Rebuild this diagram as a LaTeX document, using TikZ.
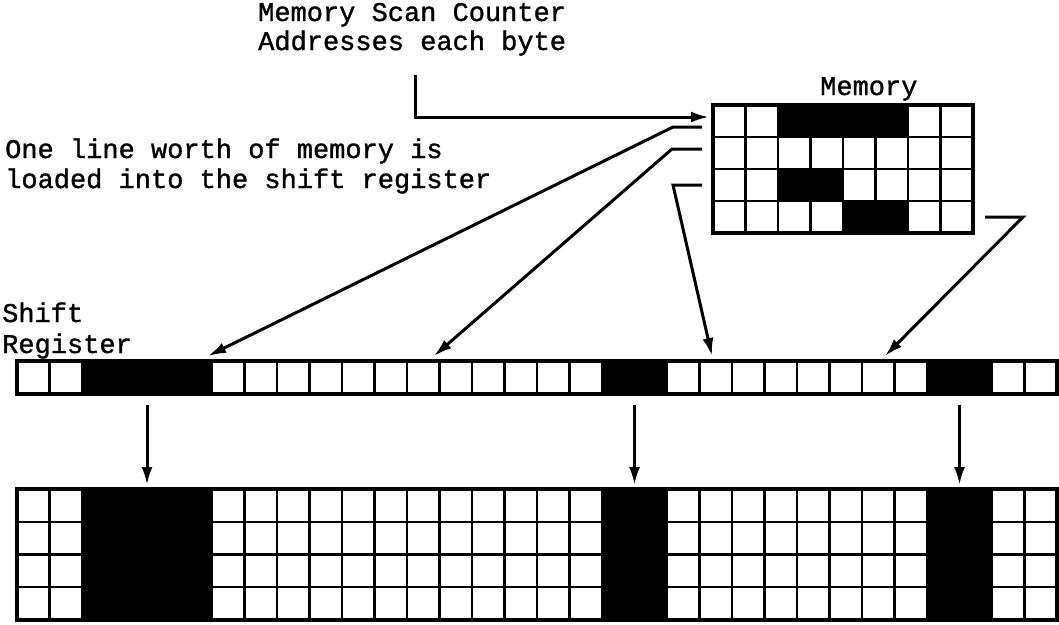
\documentclass[tikz,border=0pt]{standalone}
\usepackage{fontspec}
\setmonofont{Liberation Mono}[FakeBold=1.2]
\usetikzlibrary{arrows.meta}
\begin{document}
\begin{tikzpicture}[x=1pt,y=-1pt,
  lbl/.style={font=\ttfamily\fontsize{27}{30}\selectfont, inner sep=0pt, anchor=base west},
  conn/.style={line width=3pt, -{Latex[length=18pt,width=11pt]}, line join=miter},
  gridline/.style={line width=2.2pt},
  outer/.style={line width=3.5pt},
  bit/.style={fill=black}]
\useasboundingbox[fill=white] (0,0) rectangle (1059,624);

% ---- texts
\node[lbl] (msc1) at (258,21) {Memory Scan Counter};
\node[lbl] (msc2) at (258,50) {Addresses each byte};
\node[lbl] (memlbl) at (820,95) {Memory};
\node[lbl] (ol1) at (5,158) {One line worth of memory is};
\node[lbl] (ol2) at (5,188) {loaded into the shift register};
\node[lbl] (sr1) at (2,322) {Shift};
\node[lbl] (sr2) at (2,353) {Register};

% ---- memory grid (8 x 4)
\foreach \i in {1,...,7} \draw[gridline] ({713+\i*32.5},105) -- ({713+\i*32.5},233);
\foreach \j in {1,2,3} \draw[gridline] (713,{105+\j*32}) -- (973,{105+\j*32});
\fill[bit] (778,105) rectangle (908,137);
\fill[bit] (778,169) rectangle (843,201);
\fill[bit] (843,201) rectangle (908,233);
\draw[outer] (713,105) rectangle (973,233);

% ---- shift register (32 x 1)
\foreach \i in {1,...,31} \draw[gridline] ({17+\i*32.5},361) -- ({17+\i*32.5},394);
\fill[bit] (82,361) rectangle (212,394);
\fill[bit] (602,361) rectangle (667,394);
\fill[bit] (927,361) rectangle (992,394);
\draw[outer] (17,361) rectangle (1057,394);

% ---- display grid (32 x 4)
\foreach \i in {1,...,31} \draw[gridline] ({17+\i*32.5},489) -- ({17+\i*32.5},620);
\foreach \j in {1,2,3} \draw[gridline] (17,{489+\j*32.75}) -- (1057,{489+\j*32.75});
\fill[bit] (82,489) rectangle (212,620);
\fill[bit] (602,489) rectangle (667,620);
\fill[bit] (927,489) rectangle (992,620);
\draw[outer] (17,489) rectangle (1057,620);

% ---- connector coordinates
\coordinate (scA) at (415,75);
\coordinate (scB) at (415,117);
\coordinate (mem0) at (709,117);
\coordinate (r0a) at (702,127);
\coordinate (r0b) at (673,127);
\coordinate (s0) at (208,356);
\coordinate (r1a) at (702,149);
\coordinate (r1b) at (672,149);
\coordinate (s1) at (434,356);
\coordinate (r2a) at (702,185);
\coordinate (r2b) at (673,185);
\coordinate (s2) at (712,356);
\coordinate (r3a) at (985,217);
\coordinate (r3b) at (1023,217);
\coordinate (s3) at (885,356);
\coordinate (d1a) at (147,405);
\coordinate (d1b) at (147,485);
\coordinate (d2a) at (634.5,405);
\coordinate (d2b) at (634.5,485);
\coordinate (d3a) at (959.5,405);
\coordinate (d3b) at (959.5,485);

% ---- connectors
\draw[conn] (scA) -- (scB) -- (mem0);
\draw[conn] (r0a) -- (r0b) -- (s0);
\draw[conn] (r1a) -- (r1b) -- (s1);
\draw[conn] (r2a) -- (r2b) -- (s2);
\draw[conn] (r3a) -- (r3b) -- (s3);
\draw[conn] (d1a) -- (d1b);
\draw[conn] (d2a) -- (d2b);
\draw[conn] (d3a) -- (d3b);
\end{tikzpicture}
\end{document}
